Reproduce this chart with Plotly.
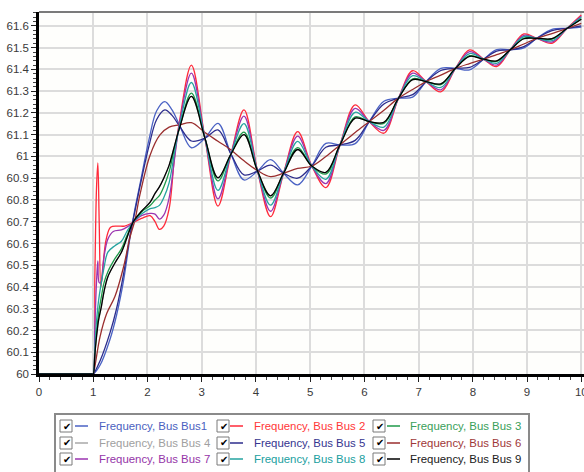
import plotly.graph_objects as go

# ---------------- data ----------------
t_osc = [2.59, 2.81, 3.06, 3.30, 3.54, 3.78, 4.03, 4.27, 4.51, 4.77, 5.03, 5.29, 5.55, 5.83, 6.09,
         6.36, 6.63, 6.89, 7.14, 7.41, 7.68, 7.94, 8.20, 8.44, 8.69, 8.94, 9.18, 9.46, 9.74, 10.0]

t_early_red = [0, 0.98, 1.0, 1.03, 1.06, 1.085, 1.11, 1.14, 1.18, 1.24, 1.32, 1.45, 1.58, 1.73,
               1.89, 2.05, 2.14, 2.22, 2.30, 2.40, 2.50]
t_early_purple = [0, 0.98, 1.0, 1.03, 1.06, 1.085, 1.11, 1.14, 1.20, 1.27, 1.37, 1.52, 1.62, 1.73,
                  1.89, 2.05, 2.14, 2.22, 2.30, 2.40, 2.50]
t_early_group = [0, 0.98, 1.0, 1.03, 1.06, 1.10, 1.15, 1.20, 1.27, 1.40, 1.52, 1.62, 1.73, 1.89,
                 2.05, 2.14, 2.22, 2.30, 2.40, 2.50]
t_early_blue = [0, 0.98, 1.0, 1.125, 1.31, 1.43, 1.56, 1.68, 1.77, 1.86, 2.03, 2.17, 2.32, 2.45]
t_early_brown = [0, 0.98, 1.0, 1.03, 1.125, 1.25, 1.40, 1.56, 1.68, 1.77, 1.86, 2.05, 2.23, 2.40]

f_early_bus2 = [60, 60, 60, 60.45, 60.85, 60.97, 60.70, 60.40, 60.50, 60.62, 60.675, 60.68, 60.68,
                60.696, 60.715, 60.728, 60.70, 60.665, 60.68, 60.76, 61.0]
f_early_bus7 = [60, 60, 60, 60.22, 60.42, 60.52, 60.42, 60.42, 60.54, 60.62, 60.655, 60.662, 60.675,
                60.696, 60.728, 60.738, 60.735, 60.712, 60.73, 60.81, 60.99]
f_early_bus8 = [60, 60, 60, 60.12, 60.24, 60.34, 60.42, 60.49, 60.56, 60.59, 60.61, 60.655, 60.696,
                60.735, 60.76, 60.765, 60.775, 60.81, 60.88, 61.02]
f_early_bus3 = [60, 60, 60, 60.10, 60.19, 60.28, 60.355, 60.42, 60.47, 60.53, 60.575, 60.635, 60.696,
                60.745, 60.775, 60.80, 60.82, 60.86, 60.93, 61.04]
f_early_bus9 = [60, 60, 60, 60.09, 60.17, 60.25, 60.31, 60.38, 60.447, 60.51, 60.56, 60.625, 60.696,
                60.748, 60.79, 60.83, 60.86, 60.90, 60.96, 61.05]
f_early_bus4 = [60, 60, 60, 60.09, 60.17, 60.25, 60.31, 60.38, 60.447, 60.51, 60.56, 60.625, 60.696,
                60.748, 60.79, 60.83, 60.86, 60.90, 60.96, 61.05]
f_early_bus1 = [60, 60, 60, 60.04, 60.16, 60.27, 60.43, 60.63, 60.76, 60.87, 61.08, 61.21, 61.252, 61.215]
f_early_bus5 = [60, 60, 60, 60.06, 60.19, 60.30, 60.46, 60.64, 60.75, 60.86, 61.05, 61.17, 61.214, 61.19]
f_early_bus6 = [60, 60, 60, 60.034, 60.171, 60.279, 60.356, 60.493, 60.631, 60.708, 60.823, 61.007,
                61.099, 61.135]

f_osc_bus2 = [61.16, 61.420, 61.084, 60.772, 61.011, 61.214, 60.933, 60.723, 60.923, 61.114, 60.956,
              60.857, 61.053, 61.237, 61.160, 61.107, 61.268, 61.394, 61.344, 61.297, 61.405, 61.490,
              61.447, 61.413, 61.490, 61.563, 61.543, 61.520, 61.589, 61.650]
f_osc_bus7 = [61.15, 61.383, 61.084, 60.805, 61.011, 61.185, 60.933, 60.748, 60.923, 61.093, 60.956,
              60.875, 61.053, 61.221, 61.160, 61.120, 61.268, 61.383, 61.344, 61.306, 61.405, 61.482,
              61.447, 61.420, 61.490, 61.557, 61.543, 61.526, 61.589, 61.645]
f_osc_bus8 = [61.14, 61.340, 61.084, 60.844, 61.011, 61.151, 60.933, 60.776, 60.923, 61.069, 60.956,
              60.895, 61.053, 61.203, 61.160, 61.135, 61.268, 61.371, 61.344, 61.317, 61.405, 61.473,
              61.447, 61.428, 61.490, 61.551, 61.543, 61.532, 61.589, 61.640]
f_osc_bus3 = [61.13, 61.291, 61.084, 60.888, 61.011, 61.112, 60.933, 60.809, 60.923, 61.041, 60.956,
              60.919, 61.053, 61.182, 61.160, 61.152, 61.268, 61.357, 61.344, 61.330, 61.405, 61.463,
              61.447, 61.437, 61.490, 61.544, 61.543, 61.539, 61.589, 61.633]
f_osc_bus9 = [61.13, 61.276, 61.084, 60.902, 61.011, 61.100, 60.933, 60.819, 60.923, 61.032, 60.956,
              60.927, 61.053, 61.176, 61.160, 61.157, 61.268, 61.353, 61.344, 61.334, 61.405, 61.460,
              61.447, 61.439, 61.490, 61.541, 61.543, 61.542, 61.589, 61.631]
f_osc_bus4 = [61.13, 61.276, 61.084, 60.902, 61.011, 61.100, 60.933, 60.819, 60.923, 61.032, 60.956,
              60.927, 61.053, 61.176, 61.160, 61.157, 61.268, 61.353, 61.344, 61.334, 61.405, 61.460,
              61.447, 61.439, 61.490, 61.541, 61.543, 61.542, 61.589, 61.631]
f_osc_bus1 = [61.145, 61.040, 61.084, 61.152, 61.011, 60.892, 60.933, 60.985, 60.923, 60.869, 60.956,
              61.060, 61.053, 61.059, 61.160, 61.254, 61.268, 61.273, 61.344, 61.405, 61.405, 61.398,
              61.447, 61.491, 61.490, 61.499, 61.543, 61.584, 61.589, 61.595]
f_osc_bus5 = [61.14, 61.071, 61.084, 61.122, 61.011, 60.915, 60.933, 60.960, 60.923, 60.900, 60.956,
              61.042, 61.053, 61.074, 61.160, 61.241, 61.268, 61.284, 61.344, 61.395, 61.405, 61.409,
              61.447, 61.484, 61.490, 61.505, 61.543, 61.578, 61.589, 61.600]
f_osc_bus6 = [61.145, 61.155, 61.11, 61.07, 61.03, 60.98, 60.935, 60.907, 60.923, 60.945, 60.956,
              61.0, 61.053, 61.11, 61.16, 61.212, 61.268, 61.308, 61.344, 61.374, 61.405, 61.427,
              61.447, 61.468, 61.490, 61.517, 61.543, 61.565, 61.589, 61.612]

names = ["Frequency, Bus Bus1", "Frequency, Bus Bus 2", "Frequency, Bus Bus 3",
         "Frequency, Bus Bus 4", "Frequency, Bus Bus 5", "Frequency, Bus Bus 6",
         "Frequency, Bus Bus 7", "Frequency, Bus Bus 8", "Frequency, Bus Bus 9"]
line_colors = ["#4a62c4", "#ff2a3a", "#1f9a4a", "#a8a8a8", "#2c2c8c", "#9a2e2e",
               "#9b35b0", "#25a3a0", "#000000"]
text_colors = ["#4a5fc0", "#ff3838", "#3aa05a", "#a0a0a0", "#35358f", "#a03838",
               "#9535a8", "#20a0a0", "#202020"]

x_ticks = [0, 1, 2, 3, 4, 5, 6, 7, 8, 9, 10]
y_ticks = [60.0, 60.1, 60.2, 60.3, 60.4, 60.5, 60.6, 60.7, 60.8, 60.9, 61.0,
           61.1, 61.2, 61.3, 61.4, 61.5, 61.6]
y_tick_labels = ["60", "60.1", "60.2", "60.3", "60.4", "60.5", "60.6", "60.7", "60.8", "60.9",
                 "61", "61.1", "61.2", "61.3", "61.4", "61.5", "61.6"]

series_t = [t_early_blue + t_osc, t_early_red + t_osc, t_early_group + t_osc,
            t_early_group + t_osc, t_early_blue + t_osc, t_early_brown + t_osc,
            t_early_purple + t_osc, t_early_group + t_osc, t_early_group + t_osc]
series_f = [f_early_bus1 + f_osc_bus1, f_early_bus2 + f_osc_bus2, f_early_bus3 + f_osc_bus3,
            f_early_bus4 + f_osc_bus4, f_early_bus5 + f_osc_bus5, f_early_bus6 + f_osc_bus6,
            f_early_bus7 + f_osc_bus7, f_early_bus8 + f_osc_bus8, f_early_bus9 + f_osc_bus9]

# ---------------- figure ----------------
W, H = 584, 472
L, R, T, B = 39, 0, 12, 98
PW, PH = W - L - R, H - T - B

def px(xp):
    return (xp - L) / PW

def py(yp):
    return (H - B - yp) / PH

fig = go.Figure()
draw_order = [3, 0, 1, 2, 4, 5, 6, 7, 8]
for i in draw_order:
    fig.add_trace(go.Scatter(x=series_t[i], y=series_f[i], mode="lines", name=names[i],
                             line=dict(color=line_colors[i], width=1.3, shape="spline", smoothing=1.0),
                             showlegend=False, hoverinfo="skip"))

tick_font = dict(family="Liberation Sans, Arial, sans-serif", size=11.5, color="#3a3a3a")
fig.update_layout(
    width=W, height=H, margin=dict(l=L, r=R, t=T, b=B, pad=0, autoexpand=False),
    paper_bgcolor="white", plot_bgcolor="#fefefc", hovermode=False,
    xaxis=dict(range=[0, 10.05], tickvals=x_ticks, ticks="outside", ticklen=5, tickwidth=1,
               tickcolor="#222", showline=True, linecolor="black", linewidth=2.5,
               showgrid=True, gridcolor="#dcdcdc", gridwidth=2, zeroline=False,
               tickfont=tick_font, automargin=False, ticklabeloverflow="allow",
               minor=dict(dtick=0.2, ticks="outside", ticklen=3, tickcolor="#444", showgrid=False)),
    yaxis=dict(range=[60, 61.664], tickvals=y_ticks, ticktext=y_tick_labels, ticks="outside",
               ticklen=5, tickwidth=1, tickcolor="#222", showline=True, linecolor="black",
               linewidth=2.5, showgrid=True, gridcolor="#dcdcdc", gridwidth=2, zeroline=False,
               tickfont=tick_font, automargin=False, ticklabeloverflow="allow",
               minor=dict(dtick=0.02, ticks="outside", ticklen=3, tickcolor="#444", showgrid=False)),
)

shapes = []
annotations = []
# top border of the plot
shapes.append(dict(type="line", xref="paper", yref="paper", x0=0, x1=1, y0=1, y1=1,
                   line=dict(color="#7a7a7a", width=2)))
# legend frame
shapes.append(dict(type="rect", xref="paper", yref="paper", x0=px(55), x1=px(529),
                   y0=py(486), y1=py(414), line=dict(color="#8a8a8a", width=2),
                   fillcolor="white", layer="above"))

col_box = [60, 217, 373]
col_line = [75, 230, 387]
col_text = [97, 252, 408]
row_y = [426, 443, 459]
for i, nm in enumerate(names):
    r, c = divmod(i, 3)
    yc = row_y[r]
    shapes.append(dict(type="rect", xref="paper", yref="paper",
                       x0=px(col_box[c]), x1=px(col_box[c] + 12), y0=py(yc + 6), y1=py(yc - 6),
                       line=dict(color="#7a7a7a", width=1), fillcolor="white", layer="above"))
    annotations.append(dict(xref="paper", yref="paper", x=px(col_box[c] + 6.5), y=py(yc),
                            text="\u2714", showarrow=False, xanchor="center", yanchor="middle",
                            font=dict(family="DejaVu Sans", size=10, color="black")))
    shapes.append(dict(type="line", xref="paper", yref="paper",
                       x0=px(col_line[c]), x1=px(col_line[c] + 13), y0=py(yc), y1=py(yc),
                       line=dict(color=line_colors[i], width=1.5), layer="above"))
    annotations.append(dict(xref="paper", yref="paper", x=px(col_text[c]), y=py(yc),
                            text=nm, showarrow=False, xanchor="left", yanchor="middle",
                            font=dict(family="Liberation Sans, Arial, sans-serif", size=11.4,
                                      color=text_colors[i])))

fig.update_layout(shapes=shapes, annotations=annotations)
fig.write_html("out.html", config={"displayModeBar": False},
               post_script="document.body.style.margin='0';document.body.style.padding='0';")
